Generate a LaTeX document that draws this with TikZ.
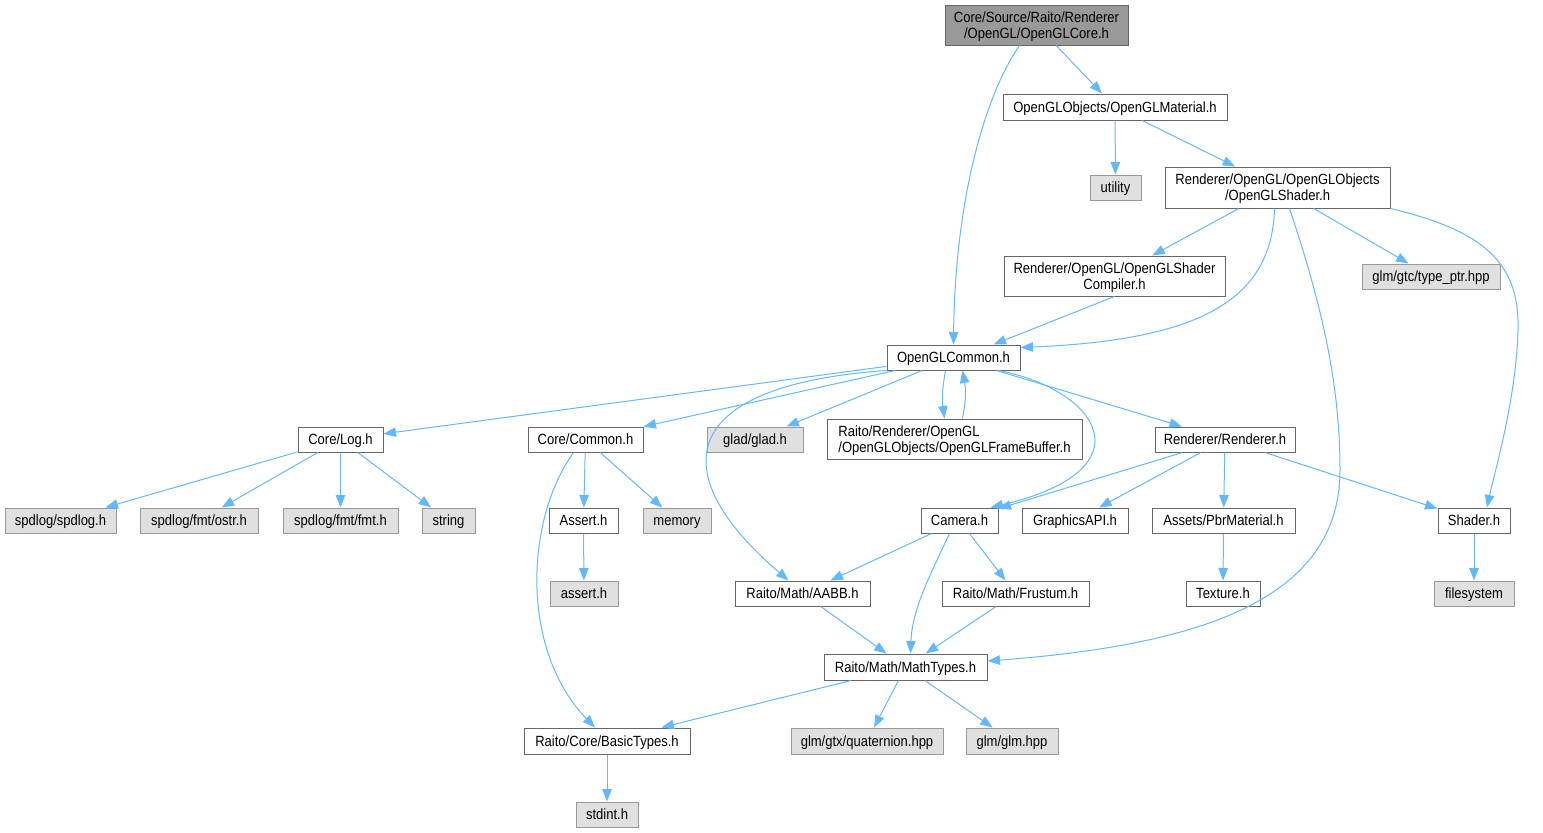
\documentclass[tikz,border=0pt]{standalone}
\usepackage{fontspec}
\setmainfont{Liberation Sans}[FakeStretch=0.88]
\usetikzlibrary{arrows.meta}
\definecolor{edgeblue}{HTML}{63B8FF}
\definecolor{boxline}{HTML}{666666}
\definecolor{sysline}{HTML}{999999}
\definecolor{sysfill}{HTML}{E0E0E0}
\definecolor{rootfill}{HTML}{999999}

\begin{document}
\begin{tikzpicture}[x=1pt,y=-1pt,font=\fontsize{14.8}{16}\selectfont, line/.style={draw=edgeblue,line width=1pt,-{Triangle[length=12.5pt,width=9.5pt]}}, file/.style={rectangle,draw=boxline,line width=1pt,fill=white,inner sep=0pt,minimum height=25pt,align=center,text height=10.6pt,text depth=0pt}, twoline/.style={text height=26.6pt,text depth=0pt,minimum height=40pt}, sysfile/.style={file,draw=sysline,fill=sysfill}, root/.style={file,fill=rootfill}]
\useasboundingbox (0,0) rectangle (1543,833);
% headers
\node[root,twoline,minimum width=183pt] (core) at (1036.5,25) {Core/Source/Raito/Renderer\\/OpenGL/OpenGLCore.h};
\node[file,minimum width=224pt,minimum height=26pt] (mat) at (1115,107) {OpenGLObjects/OpenGLMaterial.h};
\node[sysfile,minimum width=51pt] (utility) at (1115.5,187.5) {utility};
\node[file,twoline,minimum width=225pt,minimum height=41pt] (shader) at (1277.5,187.5) {Renderer/OpenGL/OpenGLObjects\\/OpenGLShader.h};
\node[file,twoline,minimum width=221pt] (compiler) at (1114.5,276) {Renderer/OpenGL/OpenGLShader\\Compiler.h};
\node[sysfile,minimum width=138pt] (typeptr) at (1431,276.5) {glm/gtc/type\_ptr.hpp};
\node[file,minimum width=133pt] (common) at (953.5,357.5) {OpenGLCommon.h};
\node[file,minimum width=85pt] (log) at (340.5,439.5) {Core/Log.h};
\node[file,minimum width=115pt] (ccommon) at (585.5,439.5) {Core/Common.h};
\node[sysfile,minimum width=96pt] (glad) at (755,439.5) {glad/glad.h};
\node[file,twoline,minimum width=255pt,align=left] (fb) at (954.5,439) {Raito/Renderer/OpenGL\\/OpenGLObjects/OpenGLFrameBuffer.h};
\node[file,minimum width=140pt] (renderer) at (1225,439.5) {Renderer/Renderer.h};
\node[sysfile,minimum width=111pt] (spdlog) at (60.5,520.5) {spdlog/spdlog.h};
\node[sysfile,minimum width=118pt] (ostr) at (199,520.5) {spdlog/fmt/ostr.h};
\node[sysfile,minimum width=115pt] (fmt) at (340.5,520.5) {spdlog/fmt/fmt.h};
\node[sysfile,minimum width=53pt] (string) at (448.5,520.5) {string};
\node[file,minimum width=69pt] (assert) at (583.5,520.5) {Assert.h};
\node[sysfile,minimum width=68pt] (memory) at (677,520.5) {memory};
\node[file,minimum width=77pt] (camera) at (959.5,520.5) {Camera.h};
\node[file,minimum width=106pt] (gapi) at (1075,520.5) {GraphicsAPI.h};
\node[file,minimum width=143pt] (pbr) at (1223.5,520.5) {Assets/PbrMaterial.h};
\node[file,minimum width=72pt] (shaderh) at (1474,520.5) {Shader.h};
\node[sysfile,minimum width=68pt] (asserth) at (584,593.5) {assert.h};
\node[file,minimum width=135pt] (aabb) at (802.5,593.5) {Raito/Math/AABB.h};
\node[file,minimum width=147pt] (frustum) at (1015.5,593.5) {Raito/Math/Frustum.h};
\node[file,minimum width=74pt] (texture) at (1223,593.5) {Texture.h};
\node[sysfile,minimum width=80pt] (filesystem) at (1474,593.5) {filesystem};
\node[file,minimum width=163pt,minimum height=26pt] (mathtypes) at (905.5,667) {Raito/Math/MathTypes.h};
\node[file,minimum width=166pt,minimum height=26pt] (basic) at (607,741) {Raito/Core/BasicTypes.h};
\node[sysfile,minimum width=152pt,minimum height=26pt] (quat) at (867,741) {glm/gtx/quaternion.hpp};
\node[sysfile,minimum width=92pt,minimum height=26pt] (glm) at (1012,741) {glm/glm.hpp};
\node[sysfile,minimum width=62pt] (stdint) at (607,814.5) {stdint.h};
% includes
\draw[line] ([xshift=-17pt]core.south) .. controls (985,95) and (955,200) .. (common.north);
\draw[line] (core) -- (mat);
\draw[line] (mat) -- (utility);
\draw[line] (mat) -- (shader);
\draw[line] (shader) -- (compiler);
\draw[line] ([xshift=-3pt]shader.south) .. controls (1272,300) and (1200,340) .. ([yshift=-3pt]common.north east);
\draw[line] ([xshift=12pt]shader.south) .. controls (1320,300) and (1340,380) .. (1340,470) .. controls (1340,600) and (1200,645) .. ([yshift=6pt]mathtypes.east);
\draw[line] (shader) -- (typeptr);
\draw[line] (shader.south east) .. controls (1480,230) and (1520,260) .. (1518,330) .. controls (1516,400) and (1495,470) .. ([xshift=13pt]shaderh.north);
\draw[line] (compiler.south) -- ([xshift=40pt]common.north);
\draw[line] (common) -- (log);
\draw[line] (common) -- (ccommon);
\draw[line] (common.south west) .. controls (680,385) and (660,470) .. ([xshift=-14pt]aabb.north);
\draw[line] (common) -- (glad);
\draw[line] ([xshift=-8pt]common.south) .. controls (942,390) and (942,400) .. ([xshift=-10pt]fb.north);
\draw[line] ([xshift=8pt]fb.north) .. controls (966,400) and (966,390) .. ([xshift=9pt]common.south);
\draw[line] (common) -- (renderer);
\draw[line] ([xshift=45pt]common.south) .. controls (1100,390) and (1150,470) .. ([xshift=-8pt]camera.north east);
\draw[line] (log) -- (spdlog);
\draw[line] (log) -- (ostr);
\draw[line] (log) -- (fmt);
\draw[line] (log) -- (string);
\draw[line] (ccommon) -- (assert);
\draw[line] (ccommon) -- (memory);
\draw[line] ([xshift=-12pt]ccommon.south) .. controls (525,520) and (520,650) .. ([xshift=-12pt]basic.north);
\draw[line] (assert) -- (asserth);
\draw[line] (renderer) -- (camera);
\draw[line] (renderer) -- (gapi);
\draw[line] (renderer) -- (pbr);
\draw[line] (renderer) -- (shaderh);
\draw[line] (pbr) -- (texture);
\draw[line] (shaderh) -- (filesystem);
\draw[line] (camera) -- (aabb);
\draw[line] ([xshift=-10pt]camera.south) .. controls (930,575) and (912,610) .. ([xshift=5pt]mathtypes.north);
\draw[line] (camera) -- (frustum);
\draw[line] (aabb) -- (mathtypes);
\draw[line] (frustum) -- (mathtypes);
\draw[line] (mathtypes) -- (basic);
\draw[line] (mathtypes) -- (quat);
\draw[line] (mathtypes) -- (glm);
\draw[line] (basic) -- (stdint);
\end{tikzpicture}
\end{document}
